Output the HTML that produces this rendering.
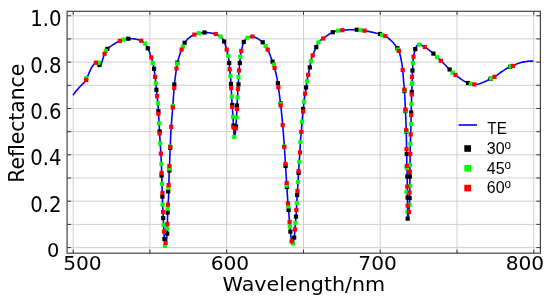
<!DOCTYPE html>
<html><head><meta charset="utf-8"><title>Reflectance</title>
<style>html,body{margin:0;padding:0;background:#fff;overflow:hidden}body{width:550px;height:301px;position:relative}</style>
</head><body>
<svg width="550" height="301" viewBox="0 0 550 301" style="position:absolute;left:0;top:0"><rect width="550" height="301" fill="#fff"/><path d="M73.2,11.3 V253.2 M149.9,11.3 V253.2 M226.7,11.3 V253.2 M303.5,11.3 V253.2 M380.2,11.3 V253.2 M457.0,11.3 V253.2 M533.8,11.3 V253.2 M67.1,247.6 H540.4 M67.1,224.4 H540.4 M67.1,201.2 H540.4 M67.1,178.0 H540.4 M67.1,154.8 H540.4 M67.1,131.7 H540.4 M67.1,108.5 H540.4 M67.1,85.3 H540.4 M67.1,62.1 H540.4 M67.1,38.9 H540.4 M67.1,15.8 H540.4" stroke="#cccccc" stroke-width="0.9" fill="none"/><path d="M73.2,253.2 v-3.5 M73.2,11.3 v3.5 M149.9,253.2 v-3.5 M149.9,11.3 v3.5 M226.7,253.2 v-3.5 M226.7,11.3 v3.5 M303.5,253.2 v-3.5 M303.5,11.3 v3.5 M380.2,253.2 v-3.5 M380.2,11.3 v3.5 M457.0,253.2 v-3.5 M457.0,11.3 v3.5 M533.8,253.2 v-3.5 M533.8,11.3 v3.5 M67.1,247.6 h4 M540.4,247.6 h-4 M67.1,224.4 h4 M540.4,224.4 h-4 M67.1,201.2 h4 M540.4,201.2 h-4 M67.1,178.0 h4 M540.4,178.0 h-4 M67.1,154.8 h4 M540.4,154.8 h-4 M67.1,131.7 h4 M540.4,131.7 h-4 M67.1,108.5 h4 M540.4,108.5 h-4 M67.1,85.3 h4 M540.4,85.3 h-4 M67.1,62.1 h4 M540.4,62.1 h-4 M67.1,38.9 h4 M540.4,38.9 h-4 M67.1,15.8 h4 M540.4,15.8 h-4" stroke="#333" stroke-width="1" fill="none"/><rect x="67.1" y="11.3" width="473.29999999999995" height="241.89999999999998" fill="none" stroke="#444" stroke-width="1.2"/><path d="M73.0,95.2 L73.8,94.1 L74.6,93.0 L75.4,92.0 L76.2,91.0 L77.1,89.9 L78.0,88.9 L78.9,87.8 L79.9,86.7 L80.9,85.7 L82.0,84.6 L83.1,83.6 L84.1,82.5 L84.9,81.5 L85.7,80.3 L86.4,79.1 L86.9,78.1 L87.4,76.9 L87.9,75.7 L88.3,74.7 L88.8,73.5 L89.3,72.4 L89.8,71.3 L90.3,70.2 L90.8,69.2 L91.3,68.2 L91.9,67.1 L92.6,66.0 L93.4,64.9 L94.3,63.8 L95.4,62.9 L96.5,62.5 L97.6,62.5 L98.7,63.5 L99.5,64.6 L100.6,65.0 L101.2,64.0 L101.7,62.8 L102.1,61.4 L102.4,60.3 L102.7,59.3 L103.1,58.1 L103.5,56.8 L103.9,55.5 L104.3,54.3 L104.7,53.3 L105.2,52.1 L105.8,51.0 L106.6,49.9 L107.6,48.8 L108.7,47.8 L109.8,46.9 L110.9,46.2 L112.0,45.4 L113.1,44.7 L114.2,44.0 L115.3,43.3 L116.4,42.6 L117.5,42.0 L118.6,41.4 L119.7,40.9 L120.8,40.5 L121.9,40.1 L123.0,39.8 L124.1,39.5 L125.2,39.2 L126.3,39.0 L127.4,38.8 L128.5,38.7 L129.6,38.7 L130.7,38.7 L131.8,38.8 L132.9,38.8 L134.0,38.9 L135.1,39.0 L136.2,39.2 L137.3,39.5 L138.4,39.8 L139.5,40.1 L140.6,40.6 L141.7,41.0 L142.8,41.7 L143.9,42.5 L145.0,43.6 L145.8,44.6 L146.5,45.8 L147.1,46.9 L147.7,48.1 L148.2,49.1 L148.7,50.3 L149.2,51.5 L149.6,52.5 L150.0,53.6 L150.4,54.7 L150.8,55.9 L151.2,57.1 L151.6,58.4 L151.9,59.5 L152.2,60.6 L152.5,61.8 L152.8,63.0 L153.1,64.2 L153.4,65.4 L153.7,66.7 L154.0,68.2 L154.2,69.4 L154.4,70.9 L154.6,72.6 L154.8,74.3 L155.0,76.1 L155.2,77.7 L155.4,79.1 L155.6,80.6 L155.8,82.2 L156.0,84.4 L156.1,85.7 L156.2,87.2 L156.3,88.6 L156.4,89.8 L156.5,90.8 L156.7,92.7 L156.9,94.4 L157.1,96.1 L157.3,97.8 L157.5,99.3 L157.7,101.1 L157.8,102.1 L157.9,103.2 L158.0,104.6 L158.1,106.4 L158.2,108.3 L158.3,110.2 L158.4,112.0 L158.5,113.7 L158.6,115.3 L158.7,116.8 L158.8,118.4 L158.9,120.0 L159.0,121.6 L159.1,123.3 L159.2,125.1 L159.3,127.0 L159.4,128.9 L159.5,130.8 L159.6,132.7 L159.7,134.6 L159.8,136.4 L159.9,138.3 L160.0,140.1 L160.1,141.8 L160.2,143.5 L160.3,145.0 L160.4,146.4 L160.5,147.8 L160.6,149.1 L160.7,150.5 L160.8,152.0 L160.9,153.6 L161.0,155.4 L161.1,157.2 L161.2,159.3 L161.3,161.5 L161.4,164.0 L161.5,167.0 L161.6,170.5 L161.7,174.0 L161.8,177.4 L161.9,180.7 L162.0,184.0 L162.1,187.1 L162.2,190.1 L162.3,193.2 L162.4,196.6 L162.5,200.8 L162.6,204.6 L162.7,206.8 L162.8,208.4 L162.9,210.0 L163.0,212.0 L163.1,215.0 L163.2,218.0 L163.3,220.1 L163.4,221.8 L163.5,223.4 L163.6,225.0 L163.7,226.7 L163.8,228.3 L163.9,229.9 L164.0,231.6 L164.1,233.5 L164.2,235.6 L164.3,237.5 L164.4,239.0 L164.5,240.1 L164.7,242.0 L164.9,243.5 L165.1,244.6 L165.4,245.7 L165.9,244.7 L166.1,243.4 L166.3,242.1 L166.5,240.6 L166.7,238.8 L166.8,237.7 L166.9,236.5 L167.0,235.1 L167.1,233.6 L167.2,231.2 L167.3,227.7 L167.4,224.0 L167.5,220.0 L167.6,215.7 L167.7,212.0 L167.8,209.1 L167.9,206.6 L168.0,204.6 L168.1,203.1 L168.2,201.9 L168.3,200.9 L168.4,199.8 L168.5,198.5 L168.6,196.6 L168.7,193.1 L168.8,188.2 L168.9,183.9 L169.0,179.4 L169.1,174.9 L169.2,171.0 L169.3,168.0 L169.4,166.0 L169.5,164.5 L169.6,163.0 L169.7,161.2 L169.8,158.8 L169.9,155.8 L170.0,152.7 L170.1,149.7 L170.2,147.0 L170.3,144.6 L170.4,142.3 L170.5,140.1 L170.6,138.0 L170.7,135.9 L170.8,133.9 L170.9,132.1 L171.0,130.2 L171.1,128.5 L171.2,126.9 L171.3,125.4 L171.4,123.9 L171.5,122.5 L171.6,121.2 L171.7,119.9 L171.8,118.7 L171.9,117.5 L172.0,116.3 L172.1,115.1 L172.2,114.0 L172.3,112.8 L172.4,111.6 L172.5,110.5 L172.6,109.2 L172.7,108.0 L172.8,106.7 L172.9,105.4 L173.0,103.9 L173.1,102.5 L173.2,101.0 L173.3,99.5 L173.4,98.0 L173.5,96.5 L173.6,95.1 L173.7,93.6 L173.8,92.2 L173.9,90.8 L174.0,89.5 L174.1,88.2 L174.2,87.1 L174.3,86.0 L174.4,85.0 L174.6,83.1 L174.8,81.2 L175.0,79.5 L175.2,77.8 L175.4,76.3 L175.6,74.8 L175.8,73.3 L176.0,71.9 L176.2,70.5 L176.4,69.2 L176.6,67.8 L176.8,66.5 L177.0,65.3 L177.2,64.2 L177.5,62.8 L177.8,61.5 L178.1,60.3 L178.4,59.2 L178.7,58.1 L179.0,57.1 L179.4,55.8 L179.8,54.6 L180.2,53.4 L180.6,52.3 L181.0,51.2 L181.4,50.1 L181.8,49.1 L182.3,47.9 L182.8,46.8 L183.3,45.6 L183.7,44.6 L184.2,43.5 L184.9,42.4 L185.7,41.4 L186.6,40.3 L187.6,39.2 L188.7,38.2 L189.8,37.3 L190.9,36.5 L192.0,35.8 L193.1,35.2 L194.2,34.6 L195.3,34.2 L196.4,33.8 L197.5,33.5 L198.6,33.3 L199.7,33.1 L200.8,32.9 L201.9,32.7 L203.0,32.6 L204.1,32.5 L205.2,32.5 L206.3,32.5 L207.4,32.6 L208.5,32.7 L209.6,32.8 L210.7,33.0 L211.8,33.2 L212.9,33.4 L214.0,33.6 L215.1,33.8 L216.2,34.1 L217.3,34.5 L218.4,35.1 L219.5,35.8 L220.6,36.7 L221.7,37.8 L222.5,38.8 L223.2,39.9 L223.8,40.9 L224.4,42.1 L224.8,43.2 L225.2,44.4 L225.6,45.7 L225.9,46.7 L226.2,47.8 L226.5,48.9 L226.8,50.0 L227.1,51.1 L227.4,52.2 L227.7,53.5 L228.0,54.9 L228.2,55.9 L228.4,57.0 L228.6,58.3 L228.8,59.7 L229.0,61.2 L229.2,63.0 L229.3,64.1 L229.4,65.4 L229.5,66.8 L229.6,68.1 L229.7,69.3 L229.9,71.1 L230.1,72.6 L230.3,74.2 L230.5,76.1 L230.6,77.3 L230.7,78.8 L230.8,80.4 L230.9,82.1 L231.0,83.9 L231.1,85.9 L231.2,88.0 L231.3,89.8 L231.4,91.5 L231.5,93.2 L231.6,94.8 L231.7,96.6 L231.8,98.5 L231.9,100.5 L232.0,102.5 L232.1,104.5 L232.2,106.2 L232.3,107.7 L232.4,109.0 L232.5,110.3 L232.6,111.5 L232.7,112.7 L232.8,114.0 L232.9,115.3 L233.0,116.8 L233.1,118.6 L233.2,120.5 L233.3,122.6 L233.4,124.6 L233.5,126.4 L233.6,128.1 L233.7,129.8 L233.8,131.5 L233.9,133.1 L234.0,134.5 L234.1,135.6 L234.3,137.2 L234.9,136.0 L235.1,134.6 L235.3,132.9 L235.5,130.9 L235.6,129.8 L235.7,128.7 L235.8,127.6 L235.9,126.4 L236.0,125.1 L236.1,123.8 L236.2,122.3 L236.3,120.8 L236.4,119.2 L236.5,117.5 L236.6,115.7 L236.7,113.7 L236.8,111.6 L236.9,109.5 L237.0,107.4 L237.1,105.4 L237.2,103.3 L237.3,101.3 L237.4,99.3 L237.5,97.4 L237.6,95.6 L237.7,94.0 L237.8,92.3 L237.9,90.7 L238.0,89.0 L238.1,87.2 L238.2,85.5 L238.3,83.7 L238.4,81.8 L238.5,80.0 L238.6,78.0 L238.7,75.9 L238.8,73.9 L238.9,72.0 L239.0,70.5 L239.1,69.3 L239.2,68.3 L239.4,66.5 L239.6,64.9 L239.8,63.0 L239.9,61.8 L240.0,60.4 L240.1,59.0 L240.2,57.7 L240.3,56.7 L240.5,55.2 L240.7,53.9 L240.9,52.8 L241.2,51.4 L241.5,50.0 L241.8,48.7 L242.1,47.4 L242.4,46.2 L242.7,45.1 L243.0,44.0 L243.4,42.9 L243.9,41.8 L244.5,40.8 L245.2,39.7 L246.1,38.6 L247.2,37.8 L248.3,37.3 L249.4,37.0 L250.5,36.7 L251.6,36.5 L252.7,36.5 L253.8,36.7 L254.9,37.2 L256.0,37.7 L257.1,38.3 L258.2,38.9 L259.3,39.6 L260.3,40.3 L261.4,41.1 L262.5,42.1 L263.5,43.1 L264.4,44.2 L265.2,45.2 L265.9,46.2 L266.6,47.4 L267.2,48.4 L267.8,49.6 L268.3,50.7 L268.8,51.8 L269.3,53.0 L269.7,54.0 L270.1,55.1 L270.5,56.2 L270.9,57.2 L271.3,58.3 L271.7,59.4 L272.1,60.4 L272.5,61.4 L273.0,62.6 L273.5,63.8 L273.9,65.0 L274.2,66.2 L274.5,67.6 L274.8,68.8 L275.1,70.1 L275.4,71.3 L275.7,72.5 L276.0,73.7 L276.3,75.0 L276.6,76.3 L276.9,77.7 L277.2,79.2 L277.4,80.3 L277.6,81.4 L277.8,82.6 L278.0,83.9 L278.2,85.6 L278.4,87.3 L278.6,88.9 L278.8,90.4 L279.0,91.9 L279.2,93.3 L279.4,94.8 L279.6,96.2 L279.8,97.7 L280.0,99.2 L280.2,100.8 L280.4,102.4 L280.6,104.0 L280.8,105.8 L281.0,107.6 L281.2,109.4 L281.4,111.4 L281.6,113.3 L281.7,114.3 L281.8,115.3 L281.9,116.4 L282.0,117.4 L282.1,118.5 L282.2,119.5 L282.3,120.6 L282.4,121.7 L282.5,122.8 L282.6,124.0 L282.7,125.1 L282.8,126.3 L282.9,127.4 L283.0,128.6 L283.1,129.9 L283.2,131.1 L283.3,132.4 L283.4,133.7 L283.5,135.0 L283.6,136.3 L283.7,137.6 L283.8,139.0 L283.9,140.4 L284.0,141.7 L284.1,143.2 L284.2,144.6 L284.3,146.0 L284.4,147.5 L284.5,149.0 L284.6,150.5 L284.7,152.1 L284.8,153.7 L284.9,155.3 L285.0,156.9 L285.1,158.5 L285.2,160.2 L285.3,161.8 L285.4,163.4 L285.5,165.0 L285.6,166.6 L285.7,168.2 L285.8,169.7 L285.9,171.3 L286.0,172.9 L286.1,174.4 L286.2,176.0 L286.3,177.6 L286.4,179.2 L286.5,180.8 L286.6,182.4 L286.7,184.0 L286.8,185.7 L286.9,187.4 L287.0,189.1 L287.1,190.8 L287.2,192.4 L287.3,194.0 L287.4,195.5 L287.5,196.9 L287.6,198.3 L287.7,199.6 L287.8,200.9 L287.9,202.2 L288.0,203.4 L288.1,204.6 L288.2,205.7 L288.3,206.7 L288.4,207.8 L288.5,208.9 L288.6,210.0 L288.7,211.2 L288.8,212.4 L288.9,213.7 L289.0,215.0 L289.1,216.3 L289.2,217.6 L289.3,218.9 L289.4,220.1 L289.5,221.4 L289.6,222.6 L289.7,223.8 L289.8,225.0 L289.9,226.2 L290.0,227.3 L290.1,228.5 L290.2,229.6 L290.3,230.6 L290.5,232.6 L290.7,234.5 L290.9,236.3 L291.1,237.9 L291.3,239.4 L291.5,240.5 L291.8,241.9 L292.1,243.1 L293.1,242.8 L293.5,241.5 L293.8,240.0 L294.0,238.9 L294.2,237.6 L294.4,236.0 L294.6,234.1 L294.7,233.0 L294.8,231.9 L294.9,230.7 L295.0,229.4 L295.1,227.9 L295.2,226.2 L295.3,224.5 L295.4,223.0 L295.5,221.8 L295.6,220.8 L295.8,218.9 L295.9,217.8 L296.0,216.6 L296.1,215.1 L296.2,213.5 L296.3,211.7 L296.4,210.0 L296.5,208.3 L296.6,206.6 L296.7,204.8 L296.8,203.0 L296.9,201.0 L297.0,198.9 L297.1,196.8 L297.2,195.0 L297.3,193.6 L297.4,192.4 L297.5,191.0 L297.6,189.4 L297.7,187.6 L297.8,185.7 L297.9,183.8 L298.0,182.0 L298.1,180.2 L298.2,178.5 L298.3,176.7 L298.4,175.0 L298.5,173.3 L298.6,171.6 L298.7,169.9 L298.8,168.3 L298.9,166.7 L299.0,165.1 L299.1,163.5 L299.2,162.0 L299.3,160.6 L299.4,159.2 L299.5,158.0 L299.6,156.7 L299.7,155.3 L299.8,153.9 L299.9,152.3 L300.0,150.4 L300.1,148.2 L300.2,145.9 L300.3,143.8 L300.4,142.0 L300.5,140.6 L300.6,139.3 L300.7,138.2 L300.8,137.1 L300.9,136.1 L301.1,134.1 L301.2,133.0 L301.3,131.9 L301.4,130.7 L301.5,129.4 L301.6,128.2 L301.7,126.9 L301.8,125.6 L301.9,124.3 L302.0,123.0 L302.1,121.8 L302.2,120.6 L302.3,119.4 L302.4,118.2 L302.5,117.1 L302.6,115.9 L302.7,114.8 L302.8,113.7 L302.9,112.6 L303.0,111.5 L303.1,110.5 L303.3,108.6 L303.5,106.7 L303.7,105.0 L303.9,103.3 L304.1,101.6 L304.3,99.9 L304.5,98.2 L304.7,96.5 L304.9,95.0 L305.1,93.6 L305.3,92.5 L305.6,91.1 L305.9,89.7 L306.1,88.5 L306.3,86.9 L306.5,85.0 L306.7,83.0 L306.9,81.4 L307.1,80.2 L307.3,79.1 L307.5,78.1 L307.8,76.7 L308.1,75.3 L308.4,73.9 L308.7,72.5 L309.0,71.2 L309.3,69.8 L309.6,68.4 L309.9,66.9 L310.1,65.7 L310.3,64.5 L310.5,63.3 L310.7,62.1 L311.0,60.8 L311.3,59.6 L311.6,58.6 L312.0,57.4 L312.4,56.2 L312.8,55.1 L313.2,54.1 L313.7,52.9 L314.2,51.7 L314.7,50.6 L315.2,49.5 L315.7,48.4 L316.2,47.3 L316.7,46.2 L317.2,44.9 L317.7,43.7 L318.3,42.6 L319.2,41.5 L320.3,40.5 L321.4,39.7 L322.5,39.0 L323.5,38.3 L324.6,37.5 L325.7,36.6 L326.7,35.9 L327.8,35.1 L328.9,34.3 L329.9,33.7 L331.0,33.1 L332.1,32.5 L333.1,32.1 L334.2,31.7 L335.3,31.3 L336.3,31.0 L337.4,30.8 L338.5,30.6 L339.5,30.5 L340.6,30.4 L341.7,30.3 L342.7,30.2 L343.8,30.1 L344.9,30.0 L345.9,30.0 L347.0,29.9 L348.1,29.8 L349.1,29.8 L350.2,29.8 L351.3,29.8 L352.3,29.7 L353.4,29.7 L354.5,29.7 L355.5,29.7 L356.6,29.7 L357.7,29.8 L358.7,29.9 L359.8,30.1 L360.9,30.2 L361.9,30.4 L363.0,30.5 L364.1,30.6 L365.1,30.8 L366.2,31.0 L367.3,31.2 L368.3,31.4 L369.4,31.6 L370.5,31.9 L371.5,32.1 L372.6,32.3 L373.7,32.6 L374.7,32.8 L375.8,33.1 L376.9,33.3 L377.9,33.6 L379.0,33.9 L380.1,34.2 L381.1,34.5 L382.2,34.8 L383.3,35.2 L384.3,35.6 L385.4,36.0 L386.5,36.7 L387.5,37.4 L388.6,38.3 L389.7,39.3 L390.7,40.2 L391.8,41.3 L392.8,42.3 L393.7,43.3 L394.6,44.4 L395.4,45.5 L396.2,46.5 L396.9,47.6 L397.6,48.6 L398.3,49.7 L398.9,50.9 L399.3,52.0 L399.7,53.3 L400.0,54.5 L400.3,55.7 L400.6,57.1 L400.9,58.5 L401.2,60.0 L401.4,61.1 L401.6,62.2 L401.8,63.4 L402.0,64.7 L402.2,66.0 L402.4,67.5 L402.6,69.1 L402.8,71.0 L402.9,72.0 L403.0,73.2 L403.1,74.5 L403.2,75.8 L403.3,77.2 L403.4,78.5 L403.5,79.8 L403.6,81.0 L403.7,82.1 L403.8,83.2 L403.9,84.2 L404.0,85.2 L404.1,86.3 L404.2,87.4 L404.3,88.7 L404.4,90.0 L404.5,91.5 L404.6,93.2 L404.7,95.0 L404.8,97.0 L404.9,99.0 L405.0,101.1 L405.1,103.3 L405.2,105.5 L405.3,107.8 L405.4,110.0 L405.5,112.2 L405.6,114.4 L405.7,116.6 L405.8,118.8 L405.9,121.3 L406.0,123.9 L406.1,126.8 L406.2,130.0 L406.3,133.9 L406.4,138.5 L406.5,143.7 L406.6,149.0 L406.7,155.1 L406.8,161.6 L406.9,167.0 L407.0,170.3 L407.1,172.9 L407.2,177.0 L407.3,187.0 L407.4,195.8 L407.5,204.5 L407.6,212.0 L407.7,215.7 L407.8,218.5 L407.9,219.5 L408.2,217.8 L408.4,215.9 L408.6,214.2 L408.8,212.8 L409.0,211.1 L409.1,210.0 L409.2,208.7 L409.3,207.2 L409.4,205.3 L409.5,203.0 L409.6,199.7 L409.7,195.0 L409.8,187.0 L409.9,174.0 L410.0,165.0 L410.1,154.4 L410.2,149.9 L410.3,146.9 L410.4,144.0 L410.5,140.6 L410.6,137.3 L410.7,134.0 L410.8,130.8 L410.9,127.7 L411.0,124.0 L411.1,119.2 L411.2,114.0 L411.3,108.7 L411.4,104.0 L411.5,100.8 L411.6,98.1 L411.7,95.7 L411.8,93.0 L411.9,89.9 L412.0,86.7 L412.1,83.5 L412.2,80.0 L412.3,76.9 L412.4,74.6 L412.5,72.6 L412.6,70.5 L412.7,67.8 L412.8,65.1 L412.9,63.0 L413.0,61.7 L413.1,60.6 L413.3,58.8 L413.5,57.3 L413.7,56.1 L413.9,54.9 L414.1,53.8 L414.4,52.4 L414.7,51.1 L415.0,50.0 L415.4,48.8 L415.8,47.8 L416.3,46.7 L416.9,45.6 L417.9,44.8 L419.0,44.4 L420.1,44.4 L421.1,45.0 L422.2,45.5 L423.3,46.1 L424.3,46.7 L425.4,47.4 L426.5,48.1 L427.5,48.8 L428.6,49.6 L429.7,50.5 L430.7,51.3 L431.8,52.2 L432.9,53.2 L433.9,54.1 L435.0,55.2 L436.0,56.2 L437.0,57.2 L438.1,58.2 L439.1,59.1 L440.2,60.1 L441.3,61.2 L442.3,62.1 L443.4,63.2 L444.5,64.3 L445.5,65.3 L446.5,66.3 L447.5,67.4 L448.5,68.4 L449.5,69.4 L450.5,70.4 L451.5,71.5 L452.6,72.6 L453.7,73.5 L454.7,74.3 L455.8,75.1 L456.9,76.0 L457.9,76.8 L459.0,77.7 L460.1,78.5 L461.1,79.2 L462.2,79.9 L463.3,80.6 L464.3,81.2 L465.4,81.8 L466.5,82.3 L467.5,82.8 L468.6,83.2 L469.7,83.6 L470.7,83.9 L471.8,84.1 L472.9,84.3 L473.9,84.4 L475.0,84.4 L476.1,84.3 L477.1,84.2 L478.2,84.1 L479.3,83.8 L480.3,83.5 L481.4,83.1 L482.5,82.6 L483.5,82.2 L484.6,81.7 L485.7,81.2 L486.7,80.7 L487.8,80.1 L488.9,79.5 L489.9,79.0 L491.0,78.5 L492.1,77.9 L493.1,77.5 L494.2,77.0 L495.3,76.3 L496.3,75.7 L497.4,74.9 L498.5,74.0 L499.5,73.3 L500.6,72.5 L501.7,71.7 L502.7,71.1 L503.8,70.3 L504.9,69.6 L505.9,69.0 L507.0,68.3 L508.1,67.7 L509.1,67.2 L510.2,66.7 L511.3,66.4 L512.3,66.1 L513.4,65.7 L514.5,65.2 L515.5,64.7 L516.6,64.1 L517.7,63.6 L518.7,63.3 L519.8,62.9 L520.9,62.6 L521.9,62.3 L523.0,62.1 L524.1,61.9 L525.1,61.7 L526.2,61.5 L527.3,61.4 L528.3,61.3 L529.4,61.2 L530.5,61.1 L531.5,61.1 L532.6,61.0 L533.5,61.0" stroke="#0000ff" stroke-width="1.6" fill="none" stroke-linejoin="round"/><g fill="#000"><rect x="97.3" y="62.9" width="4.2" height="4.2"/><rect x="105.2" y="46.8" width="4.2" height="4.2"/><rect x="126.2" y="36.6" width="4.2" height="4.2"/><rect x="145.7" y="46.2" width="4.2" height="4.2"/><rect x="152.0" y="66.7" width="4.2" height="4.2"/><rect x="154.3" y="87.7" width="4.2" height="4.2"/><rect x="156.3" y="109.1" width="4.2" height="4.2"/><rect x="157.5" y="129.4" width="4.2" height="4.2"/><rect x="168.1" y="145.9" width="4.2" height="4.2"/><rect x="159.5" y="173.4" width="4.2" height="4.2"/><rect x="167.3" y="168.4" width="4.2" height="4.2"/><rect x="166.1" y="189.3" width="4.2" height="4.2"/><rect x="160.3" y="194.5" width="4.2" height="4.2"/><rect x="161.1" y="215.9" width="4.2" height="4.2"/><rect x="162.3" y="236.9" width="4.2" height="4.2"/><rect x="165.5" y="210.5" width="4.2" height="4.2"/><rect x="165.1" y="231.5" width="4.2" height="4.2"/><rect x="172.2" y="82.3" width="4.2" height="4.2"/><rect x="175.2" y="60.6" width="4.2" height="4.2"/><rect x="182.5" y="40.7" width="4.2" height="4.2"/><rect x="202.4" y="30.4" width="4.2" height="4.2"/><rect x="222.0" y="39.4" width="4.2" height="4.2"/><rect x="227.1" y="60.9" width="4.2" height="4.2"/><rect x="228.9" y="81.8" width="4.2" height="4.2"/><rect x="230.1" y="102.9" width="4.2" height="4.2"/><rect x="234.9" y="103.4" width="4.2" height="4.2"/><rect x="231.4" y="123.4" width="4.2" height="4.2"/><rect x="233.9" y="124.4" width="4.2" height="4.2"/><rect x="236.4" y="82.3" width="4.2" height="4.2"/><rect x="237.7" y="60.9" width="4.2" height="4.2"/><rect x="241.7" y="39.9" width="4.2" height="4.2"/><rect x="260.6" y="40.2" width="4.2" height="4.2"/><rect x="270.5" y="59.6" width="4.2" height="4.2"/><rect x="275.8" y="81.1" width="4.2" height="4.2"/><rect x="278.6" y="101.4" width="4.2" height="4.2"/><rect x="283.5" y="163.9" width="4.2" height="4.2"/><rect x="284.8" y="184.9" width="4.2" height="4.2"/><rect x="286.5" y="207.9" width="4.2" height="4.2"/><rect x="288.3" y="229.5" width="4.2" height="4.2"/><rect x="292.1" y="235.5" width="4.2" height="4.2"/><rect x="293.9" y="214.5" width="4.2" height="4.2"/><rect x="295.1" y="192.9" width="4.2" height="4.2"/><rect x="296.5" y="170.9" width="4.2" height="4.2"/><rect x="301.0" y="106.9" width="4.2" height="4.2"/><rect x="304.0" y="85.4" width="4.2" height="4.2"/><rect x="307.7" y="65.3" width="4.2" height="4.2"/><rect x="314.2" y="45.0" width="4.2" height="4.2"/><rect x="330.7" y="30.1" width="4.2" height="4.2"/><rect x="354.7" y="27.6" width="4.2" height="4.2"/><rect x="377.9" y="31.9" width="4.2" height="4.2"/><rect x="395.3" y="46.1" width="4.2" height="4.2"/><rect x="402.3" y="88.9" width="4.2" height="4.2"/><rect x="403.3" y="108.9" width="4.2" height="4.2"/><rect x="404.1" y="129.4" width="4.2" height="4.2"/><rect x="409.7" y="89.9" width="4.2" height="4.2"/><rect x="409.1" y="110.4" width="4.2" height="4.2"/><rect x="404.7" y="151.9" width="4.2" height="4.2"/><rect x="405.2" y="174.4" width="4.2" height="4.2"/><rect x="407.7" y="174.4" width="4.2" height="4.2"/><rect x="405.5" y="195.5" width="4.2" height="4.2"/><rect x="407.5" y="195.9" width="4.2" height="4.2"/><rect x="405.6" y="216.5" width="4.2" height="4.2"/><rect x="410.4" y="68.4" width="4.2" height="4.2"/><rect x="413.2" y="47.0" width="4.2" height="4.2"/><rect x="431.3" y="51.5" width="4.2" height="4.2"/><rect x="447.5" y="67.4" width="4.2" height="4.2"/><rect x="465.9" y="80.9" width="4.2" height="4.2"/><rect x="488.4" y="76.7" width="4.2" height="4.2"/><rect x="507.9" y="64.7" width="4.2" height="4.2"/></g><g fill="#00ff00"><rect x="84.3" y="76.1" width="4.2" height="4.2"/><rect x="96.5" y="60.7" width="4.2" height="4.2"/><rect x="103.7" y="48.9" width="4.2" height="4.2"/><rect x="121.7" y="37.5" width="4.2" height="4.2"/><rect x="142.9" y="41.5" width="4.2" height="4.2"/><rect x="150.7" y="60.9" width="4.2" height="4.2"/><rect x="153.8" y="81.1" width="4.2" height="4.2"/><rect x="155.8" y="101.1" width="4.2" height="4.2"/><rect x="157.0" y="121.2" width="4.2" height="4.2"/><rect x="158.1" y="141.4" width="4.2" height="4.2"/><rect x="159.3" y="161.9" width="4.2" height="4.2"/><rect x="159.9" y="181.9" width="4.2" height="4.2"/><rect x="167.3" y="166.5" width="4.2" height="4.2"/><rect x="166.3" y="185.9" width="4.2" height="4.2"/><rect x="160.5" y="202.5" width="4.2" height="4.2"/><rect x="161.5" y="222.9" width="4.2" height="4.2"/><rect x="162.9" y="243.9" width="4.2" height="4.2"/><rect x="165.5" y="206.5" width="4.2" height="4.2"/><rect x="165.1" y="226.5" width="4.2" height="4.2"/><rect x="170.7" y="103.9" width="4.2" height="4.2"/><rect x="168.1" y="144.4" width="4.2" height="4.2"/><rect x="175.2" y="61.6" width="4.2" height="4.2"/><rect x="180.8" y="44.5" width="4.2" height="4.2"/><rect x="196.8" y="31.1" width="4.2" height="4.2"/><rect x="218.3" y="34.4" width="4.2" height="4.2"/><rect x="226.1" y="53.8" width="4.2" height="4.2"/><rect x="228.4" y="74.0" width="4.2" height="4.2"/><rect x="229.6" y="94.5" width="4.2" height="4.2"/><rect x="230.9" y="114.7" width="4.2" height="4.2"/><rect x="232.1" y="134.9" width="4.2" height="4.2"/><rect x="234.4" y="115.4" width="4.2" height="4.2"/><rect x="235.4" y="95.3" width="4.2" height="4.2"/><rect x="236.4" y="74.8" width="4.2" height="4.2"/><rect x="238.2" y="54.6" width="4.2" height="4.2"/><rect x="245.3" y="35.6" width="4.2" height="4.2"/><rect x="263.5" y="44.0" width="4.2" height="4.2"/><rect x="271.7" y="62.6" width="4.2" height="4.2"/><rect x="278.6" y="101.9" width="4.2" height="4.2"/><rect x="282.1" y="144.4" width="4.2" height="4.2"/><rect x="284.7" y="183.4" width="4.2" height="4.2"/><rect x="286.2" y="204.4" width="4.2" height="4.2"/><rect x="287.7" y="224.4" width="4.2" height="4.2"/><rect x="290.8" y="241.4" width="4.2" height="4.2"/><rect x="293.3" y="220.9" width="4.2" height="4.2"/><rect x="294.7" y="200.9" width="4.2" height="4.2"/><rect x="295.9" y="179.9" width="4.2" height="4.2"/><rect x="297.1" y="159.9" width="4.2" height="4.2"/><rect x="298.3" y="139.9" width="4.2" height="4.2"/><rect x="300.0" y="119.7" width="4.2" height="4.2"/><rect x="302.0" y="99.5" width="4.2" height="4.2"/><rect x="304.8" y="79.3" width="4.2" height="4.2"/><rect x="308.8" y="59.1" width="4.2" height="4.2"/><rect x="316.4" y="40.2" width="4.2" height="4.2"/><rect x="335.7" y="28.6" width="4.2" height="4.2"/><rect x="358.4" y="28.1" width="4.2" height="4.2"/><rect x="380.1" y="32.9" width="4.2" height="4.2"/><rect x="395.8" y="47.5" width="4.2" height="4.2"/><rect x="402.3" y="88.2" width="4.2" height="4.2"/><rect x="403.3" y="108.4" width="4.2" height="4.2"/><rect x="404.1" y="128.9" width="4.2" height="4.2"/><rect x="410.1" y="80.9" width="4.2" height="4.2"/><rect x="409.3" y="101.9" width="4.2" height="4.2"/><rect x="408.9" y="121.9" width="4.2" height="4.2"/><rect x="408.3" y="141.9" width="4.2" height="4.2"/><rect x="407.9" y="162.9" width="4.2" height="4.2"/><rect x="404.6" y="165.9" width="4.2" height="4.2"/><rect x="407.9" y="183.9" width="4.2" height="4.2"/><rect x="404.5" y="189.9" width="4.2" height="4.2"/><rect x="407.5" y="202.9" width="4.2" height="4.2"/><rect x="405.3" y="209.5" width="4.2" height="4.2"/><rect x="409.7" y="81.8" width="4.2" height="4.2"/><rect x="410.7" y="60.9" width="4.2" height="4.2"/><rect x="417.2" y="42.5" width="4.2" height="4.2"/><rect x="434.9" y="55.1" width="4.2" height="4.2"/><rect x="450.5" y="70.5" width="4.2" height="4.2"/><rect x="468.7" y="81.8" width="4.2" height="4.2"/><rect x="488.9" y="76.4" width="4.2" height="4.2"/><rect x="508.4" y="64.5" width="4.2" height="4.2"/></g><g fill="#ff0000"><rect x="84.1" y="77.9" width="4.2" height="4.2"/><rect x="93.8" y="60.7" width="4.2" height="4.2"/><rect x="102.4" y="51.7" width="4.2" height="4.2"/><rect x="117.8" y="38.7" width="4.2" height="4.2"/><rect x="139.1" y="38.7" width="4.2" height="4.2"/><rect x="149.2" y="55.3" width="4.2" height="4.2"/><rect x="153.0" y="74.8" width="4.2" height="4.2"/><rect x="155.0" y="94.0" width="4.2" height="4.2"/><rect x="156.3" y="111.6" width="4.2" height="4.2"/><rect x="157.5" y="131.4" width="4.2" height="4.2"/><rect x="158.8" y="151.5" width="4.2" height="4.2"/><rect x="159.5" y="170.9" width="4.2" height="4.2"/><rect x="160.3" y="190.9" width="4.2" height="4.2"/><rect x="167.3" y="163.9" width="4.2" height="4.2"/><rect x="166.5" y="182.9" width="4.2" height="4.2"/><rect x="160.9" y="209.9" width="4.2" height="4.2"/><rect x="161.9" y="229.5" width="4.2" height="4.2"/><rect x="163.5" y="240.9" width="4.2" height="4.2"/><rect x="165.9" y="202.5" width="4.2" height="4.2"/><rect x="165.3" y="221.9" width="4.2" height="4.2"/><rect x="172.2" y="85.9" width="4.2" height="4.2"/><rect x="170.7" y="105.4" width="4.2" height="4.2"/><rect x="169.1" y="124.8" width="4.2" height="4.2"/><rect x="168.1" y="144.9" width="4.2" height="4.2"/><rect x="174.4" y="66.4" width="4.2" height="4.2"/><rect x="179.5" y="47.5" width="4.2" height="4.2"/><rect x="192.2" y="32.5" width="4.2" height="4.2"/><rect x="213.7" y="31.9" width="4.2" height="4.2"/><rect x="224.6" y="47.5" width="4.2" height="4.2"/><rect x="227.6" y="67.2" width="4.2" height="4.2"/><rect x="229.1" y="85.9" width="4.2" height="4.2"/><rect x="230.1" y="104.9" width="4.2" height="4.2"/><rect x="231.4" y="125.4" width="4.2" height="4.2"/><rect x="235.9" y="86.9" width="4.2" height="4.2"/><rect x="234.9" y="106.9" width="4.2" height="4.2"/><rect x="233.7" y="126.4" width="4.2" height="4.2"/><rect x="236.9" y="68.4" width="4.2" height="4.2"/><rect x="239.2" y="48.8" width="4.2" height="4.2"/><rect x="250.3" y="34.4" width="4.2" height="4.2"/><rect x="265.6" y="47.5" width="4.2" height="4.2"/><rect x="272.5" y="65.9" width="4.2" height="4.2"/><rect x="276.3" y="85.2" width="4.2" height="4.2"/><rect x="278.6" y="103.4" width="4.2" height="4.2"/><rect x="280.6" y="123.0" width="4.2" height="4.2"/><rect x="282.2" y="144.9" width="4.2" height="4.2"/><rect x="283.4" y="161.9" width="4.2" height="4.2"/><rect x="284.6" y="180.9" width="4.2" height="4.2"/><rect x="285.9" y="201.3" width="4.2" height="4.2"/><rect x="287.5" y="219.9" width="4.2" height="4.2"/><rect x="289.5" y="239.3" width="4.2" height="4.2"/><rect x="292.9" y="227.3" width="4.2" height="4.2"/><rect x="294.3" y="207.9" width="4.2" height="4.2"/><rect x="295.4" y="188.9" width="4.2" height="4.2"/><rect x="296.5" y="168.9" width="4.2" height="4.2"/><rect x="297.9" y="150.3" width="4.2" height="4.2"/><rect x="299.2" y="129.8" width="4.2" height="4.2"/><rect x="301.0" y="109.4" width="4.2" height="4.2"/><rect x="303.0" y="91.5" width="4.2" height="4.2"/><rect x="306.1" y="72.7" width="4.2" height="4.2"/><rect x="310.6" y="53.3" width="4.2" height="4.2"/><rect x="321.1" y="36.4" width="4.2" height="4.2"/><rect x="340.3" y="28.1" width="4.2" height="4.2"/><rect x="362.5" y="28.6" width="4.2" height="4.2"/><rect x="383.2" y="33.9" width="4.2" height="4.2"/><rect x="396.8" y="48.8" width="4.2" height="4.2"/><rect x="400.6" y="67.9" width="4.2" height="4.2"/><rect x="402.3" y="87.5" width="4.2" height="4.2"/><rect x="403.3" y="107.4" width="4.2" height="4.2"/><rect x="404.1" y="127.9" width="4.2" height="4.2"/><rect x="404.5" y="146.9" width="4.2" height="4.2"/><rect x="404.7" y="163.9" width="4.2" height="4.2"/><rect x="405.1" y="184.5" width="4.2" height="4.2"/><rect x="405.5" y="203.5" width="4.2" height="4.2"/><rect x="406.9" y="209.9" width="4.2" height="4.2"/><rect x="408.6" y="132.4" width="4.2" height="4.2"/><rect x="409.9" y="74.8" width="4.2" height="4.2"/><rect x="409.7" y="92.4" width="4.2" height="4.2"/><rect x="409.1" y="112.9" width="4.2" height="4.2"/><rect x="408.1" y="151.9" width="4.2" height="4.2"/><rect x="407.8" y="169.9" width="4.2" height="4.2"/><rect x="407.5" y="190.5" width="4.2" height="4.2"/><rect x="411.4" y="54.6" width="4.2" height="4.2"/><rect x="422.7" y="44.9" width="4.2" height="4.2"/><rect x="438.7" y="58.6" width="4.2" height="4.2"/><rect x="453.4" y="72.8" width="4.2" height="4.2"/><rect x="472.3" y="82.3" width="4.2" height="4.2"/><rect x="492.4" y="74.7" width="4.2" height="4.2"/><rect x="510.8" y="63.8" width="4.2" height="4.2"/></g><path d="M458.5,125 H477" stroke="#0000ff" stroke-width="1.6"/><rect x="464.3" y="145.2" width="6.7" height="6.6" fill="#000"/><rect x="464.3" y="165.0" width="6.7" height="6.6" fill="#00ff00"/><rect x="464.3" y="184.8" width="6.7" height="6.6" fill="#ff0000"/><text transform="translate(487.3,133.6) scale(1,1.1)" font-family="Liberation Sans, Arial, sans-serif" font-size="15.3" fill="#000">TE</text><text transform="translate(486.8,154.2) scale(1,1.05)" font-family="Liberation Sans, Arial, sans-serif" font-size="16" fill="#000">30<tspan font-size="11.6" dy="-4.6">o</tspan></text><text transform="translate(486.8,173.7) scale(1,1.05)" font-family="Liberation Sans, Arial, sans-serif" font-size="16" fill="#000">45<tspan font-size="11.6" dy="-4.6">o</tspan></text><text transform="translate(486.8,193.1) scale(1,1.05)" font-family="Liberation Sans, Arial, sans-serif" font-size="16" fill="#000">60<tspan font-size="11.6" dy="-4.6">o</tspan></text><text transform="translate(61.5,26.2) scale(0.975,1.03)" text-anchor="end" font-family="DejaVu Sans, Liberation Sans, sans-serif" font-size="20.2" fill="#000">1.0</text><text transform="translate(61.5,72.6) scale(0.975,1.03)" text-anchor="end" font-family="DejaVu Sans, Liberation Sans, sans-serif" font-size="20.2" fill="#000">0.8</text><text transform="translate(61.5,119.0) scale(0.975,1.03)" text-anchor="end" font-family="DejaVu Sans, Liberation Sans, sans-serif" font-size="20.2" fill="#000">0.6</text><text transform="translate(61.5,165.3) scale(0.975,1.03)" text-anchor="end" font-family="DejaVu Sans, Liberation Sans, sans-serif" font-size="20.2" fill="#000">0.4</text><text transform="translate(61.5,211.7) scale(0.975,1.03)" text-anchor="end" font-family="DejaVu Sans, Liberation Sans, sans-serif" font-size="20.2" fill="#000">0.2</text><text transform="translate(59.3,256.9) scale(0.96,1)" text-anchor="end" font-family="DejaVu Sans, Liberation Sans, sans-serif" font-size="20.2" fill="#000">0</text><text x="82.4" y="269.9" text-anchor="middle" font-family="DejaVu Sans, Liberation Sans, sans-serif" font-size="20.2" fill="#000">500</text><text x="229.9" y="269.9" text-anchor="middle" font-family="DejaVu Sans, Liberation Sans, sans-serif" font-size="20.2" fill="#000">600</text><text x="377.6" y="269.9" text-anchor="middle" font-family="DejaVu Sans, Liberation Sans, sans-serif" font-size="20.2" fill="#000">700</text><text x="524.9" y="269.9" text-anchor="middle" font-family="DejaVu Sans, Liberation Sans, sans-serif" font-size="20.2" fill="#000">800</text><text transform="translate(303.9,290.6) scale(1.043,1)" text-anchor="middle" font-family="DejaVu Sans, Liberation Sans, sans-serif" font-size="19.8" fill="#000">Wavelength/nm</text><text transform="translate(23.8,123.3) rotate(-90) scale(1,1.05)" text-anchor="middle" font-family="DejaVu Sans, Liberation Sans, sans-serif" font-size="20.3" fill="#000">Reflectance</text></svg>
</body></html>
